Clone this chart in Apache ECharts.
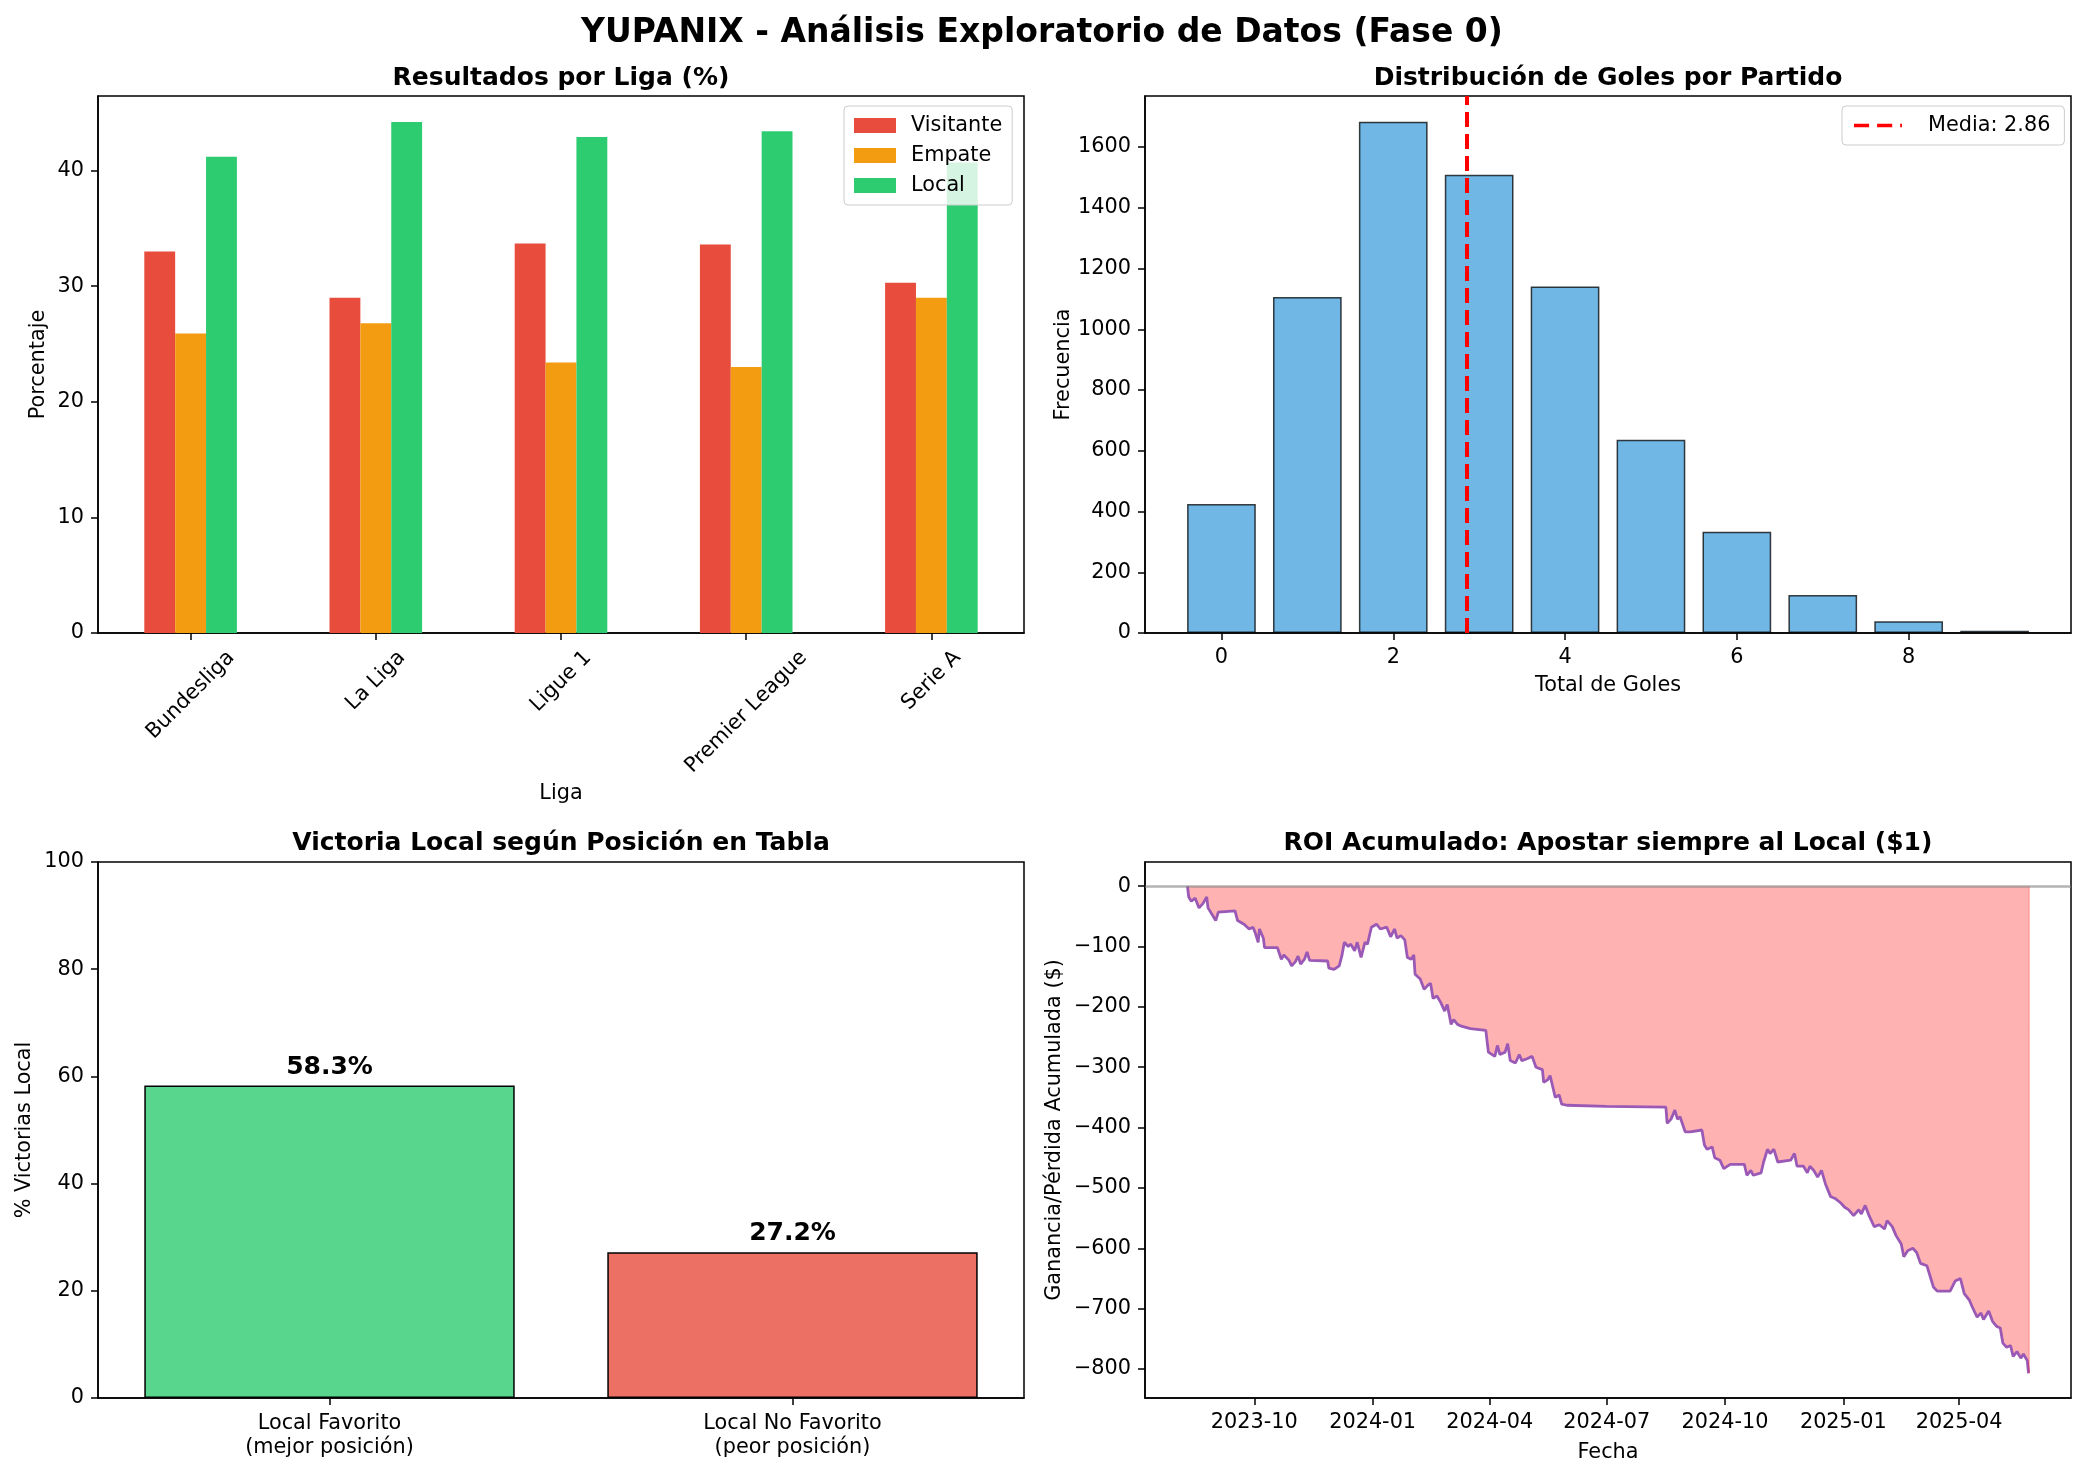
<!DOCTYPE html>
<html>
<head>
<meta charset="utf-8">
<title>YUPANIX - Análisis Exploratorio de Datos (Fase 0)</title>
<script src="https://cdn.jsdelivr.net/npm/echarts@6/dist/echarts.min.js"></script>
<style>
  html, body { margin: 0; padding: 0; background: #fff; }
  #main { width: 2084px; height: 1475px; }
</style>
</head>
<body>
<div id="main"></div>
<script>
// ---------- datos ----------
// resultados por liga (%)
const leagues = ['Bundesliga', 'La Liga', 'Ligue 1', 'Premier League', 'Serie A'];
const visitantePct = [33.0, 29.0, 33.7, 33.6, 30.3];
const empatePct = [25.9, 26.8, 23.4, 23.0, 29.0];
const localPct = [41.2, 44.2, 42.9, 43.4, 40.7];
const pctTicks = [0, 10, 20, 30, 40];

// distribucion de goles por partido
const goalTotals = [0, 1, 2, 3, 4, 5, 6, 7, 8, 9];
const goalFreq = [425, 1106, 1683, 1509, 1141, 636, 333, 125, 39, 7];
const goalMean = 2.86;
const goalTicks = [0, 2, 4, 6, 8];
const freqTicks = [0, 200, 400, 600, 800, 1000, 1200, 1400, 1600];

// victoria local segun posicion
const posCategories = ['Local Favorito\n(mejor posición)', 'Local No Favorito\n(peor posición)'];
const posHomeWinPct = [58.3, 27.2];
const winTicks = [0, 20, 40, 60, 80, 100];

// ROI acumulado apostando al local
const roiDates = [
  '2023-08-10','2023-08-11','2023-08-13','2023-08-16','2023-08-19','2023-08-22','2023-08-25','2023-08-26',
  '2023-08-30','2023-09-01','2023-09-03','2023-09-16','2023-09-18','2023-09-23','2023-09-27','2023-09-30',
  '2023-10-02','2023-10-04','2023-10-05','2023-10-08','2023-10-09','2023-10-19','2023-10-22','2023-10-24',
  '2023-10-28','2023-10-30','2023-11-02','2023-11-04','2023-11-06','2023-11-09','2023-11-11','2023-11-13',
  '2023-11-27','2023-11-28','2023-12-02','2023-12-06','2023-12-08','2023-12-10','2023-12-13','2023-12-15',
  '2023-12-18','2023-12-20','2023-12-23','2023-12-26','2023-12-28','2023-12-31','2024-01-04','2024-01-07',
  '2024-01-12','2024-01-15','2024-01-18','2024-01-20','2024-01-23','2024-01-26','2024-01-28','2024-01-31',
  '2024-02-02','2024-02-03','2024-02-07','2024-02-10','2024-02-13','2024-02-15','2024-02-17','2024-02-20',
  '2024-02-23','2024-02-26','2024-02-28','2024-03-02','2024-03-04','2024-03-07','2024-03-10','2024-03-17',
  '2024-03-29','2024-03-31','2024-04-05','2024-04-07','2024-04-09','2024-04-13','2024-04-15','2024-04-17',
  '2024-04-21','2024-04-24','2024-04-26','2024-04-30','2024-05-04','2024-05-07','2024-05-12','2024-05-13',
  '2024-05-16','2024-05-18','2024-05-20','2024-05-22','2024-05-25','2024-05-27','2024-05-31','2024-07-01',
  '2024-08-16','2024-08-17','2024-08-20','2024-08-23','2024-08-25','2024-08-27','2024-08-31','2024-09-04',
  '2024-09-13','2024-09-15','2024-09-17','2024-09-21','2024-09-23','2024-09-27','2024-09-30','2024-10-05',
  '2024-10-16','2024-10-18','2024-10-21','2024-10-23','2024-10-29','2024-10-31','2024-11-03','2024-11-05',
  '2024-11-08','2024-11-11','2024-11-21','2024-11-24','2024-11-26','2024-12-01','2024-12-04','2024-12-06',
  '2024-12-09','2024-12-12','2024-12-15','2024-12-18','2024-12-22','2024-12-26','2024-12-30','2025-01-02',
  '2025-01-05','2025-01-09','2025-01-13','2025-01-15','2025-01-18','2025-01-21','2025-01-25','2025-01-29',
  '2025-02-02','2025-02-04','2025-02-08','2025-02-11','2025-02-15','2025-02-17','2025-02-20','2025-02-24',
  '2025-02-27','2025-03-02','2025-03-07','2025-03-10','2025-03-12','2025-03-15','2025-03-25','2025-03-29',
  '2025-04-02','2025-04-05','2025-04-09','2025-04-11','2025-04-15','2025-04-18','2025-04-20','2025-04-24',
  '2025-04-27','2025-04-30','2025-05-03','2025-05-05','2025-05-08','2025-05-11','2025-05-13','2025-05-16',
  '2025-05-19','2025-05-21','2025-05-24','2025-05-25'
];
const roiCum = [
  0, -18, -25, -20, -36, -29, -18, -36,
  -50, -57, -43, -41, -57, -63, -71, -68,
  -79, -93, -71, -86, -102, -102, -121, -114,
  -123, -132, -125, -116, -129, -121, -109, -123,
  -124, -136, -138, -132, -116, -93, -100, -96,
  -107, -93, -118, -93, -96, -68, -63, -71,
  -68, -84, -71, -86, -82, -89, -118, -121,
  -114, -146, -154, -171, -164, -161, -186, -182,
  -193, -207, -196, -229, -221, -229, -232, -236,
  -239, -275, -282, -264, -279, -275, -261, -289,
  -293, -279, -289, -286, -282, -300, -304, -325,
  -321, -314, -332, -350, -346, -361, -363, -365,
  -366, -393, -386, -371, -386, -382, -407, -407,
  -404, -429, -436, -432, -450, -454, -468, -461,
  -461, -479, -471, -479, -475, -457, -436, -443,
  -436, -457, -454, -443, -464, -464, -475, -464,
  -471, -482, -471, -493, -514, -518, -525, -532,
  -536, -546, -536, -543, -529, -546, -564, -561,
  -568, -554, -564, -579, -593, -614, -604, -600,
  -607, -625, -629, -650, -664, -671, -671, -654,
  -650, -675, -686, -696, -714, -707, -718, -704,
  -721, -729, -732, -757, -764, -761, -779, -771,
  -782, -775, -786, -807
];
const roiTicks = [-800, -700, -600, -500, -400, -300, -200, -100, 0];
const roiDateTicks = ['2023-10-01', '2024-01-01', '2024-04-01', '2024-07-01', '2024-10-01', '2025-01-01', '2025-04-01'];

// ---------- estilo ----------
const FONT = 'DejaVu Sans';
const TICK = 20.8;
const TITLE = 25;
const BLACK = '#000';
const lineBlack = { color: BLACK, width: 1.5 };

// rejillas (px)
const G = {
  tl: { left: 98, top: 96, width: 926, height: 537 },
  tr: { left: 1145, top: 96, width: 926, height: 537 },
  bl: { left: 98, top: 862, width: 926, height: 536 },
  br: { left: 1145, top: 862, width: 926, height: 536 }
};

const histMin = -0.89, histMax = 9.89;
const histBarW = G.tr.width * 0.8 / (histMax - histMin);

function parseDay(s) {
  const p = s.split('-').map(Number);
  return Date.UTC(p[0], p[1] - 1, p[2]);
}
function fmtMonth(v) {
  const d = new Date(v);
  return d.getUTCFullYear() + '-' + String(d.getUTCMonth() + 1).padStart(2, '0');
}
function fmtPlain(v) {
  return v < 0 ? '\u2212' + Math.abs(v) : String(v);
}

// etiquetas giradas 45 grados centradas como en matplotlib
const measureCtx = document.createElement('canvas').getContext('2d');
measureCtx.font = TICK + 'px "DejaVu Sans"';
const rotBox = leagues.map(l => (measureCtx.measureText(l).width + 24) * Math.SQRT1_2);
const minBox = Math.min.apply(null, rotBox);
const leagueRich = {};
leagues.forEach((l, i) => {
  const p = (rotBox[i] - minBox) / 2 * Math.SQRT2;
  leagueRich['l' + i] = { fontSize: TICK, fontFamily: FONT, color: BLACK, padding: [p, p, 0, 0] };
});

function baseAxis(extra) {
  const ax = {
    axisLine: { show: true, onZero: false, lineStyle: lineBlack },
    axisTick: { show: true, length: 7, lineStyle: lineBlack },
    axisLabel: { color: BLACK, fontSize: TICK, fontFamily: FONT, margin: 14 },
    splitLine: { show: false },
    nameLocation: 'middle',
    nameTextStyle: { color: BLACK, fontSize: TICK, fontFamily: FONT }
  };
  Object.keys(extra).forEach(k => {
    if (ax[k] && typeof ax[k] === 'object' && !Array.isArray(ax[k])) {
      ax[k] = Object.assign({}, ax[k], extra[k]);
    } else {
      ax[k] = extra[k];
    }
  });
  return ax;
}

function titleAt(text, grid, top) {
  return {
    text: text,
    left: grid.left + grid.width / 2 - 5,
    top: top,
    textAlign: 'center',
    textStyle: { fontSize: TITLE, fontWeight: 'bold', fontFamily: FONT, color: BLACK }
  };
}

const chart = echarts.init(document.getElementById('main'));

const gridBase = { show: true, borderColor: BLACK, borderWidth: 1.5, backgroundColor: 'transparent' };
const legendBox = {
  backgroundColor: 'rgba(255,255,255,0.8)', borderColor: '#cccccc', borderWidth: 1, borderRadius: 4
};

const roiLastX = parseDay(roiDates[roiDates.length - 1]);
const roiLastY = roiCum[roiCum.length - 1];

const option = {
  backgroundColor: '#fff',
  animation: false,
  textStyle: { fontFamily: FONT },
  title: [
    { text: 'YUPANIX - Análisis Exploratorio de Datos (Fase 0)', left: 1037, top: 12, textAlign: 'center',
      textStyle: { fontSize: 33, fontWeight: 'bold', fontFamily: FONT, color: BLACK } },
    titleAt('Resultados por Liga (%)', G.tl, 61),
    titleAt('Distribución de Goles por Partido', G.tr, 61),
    titleAt('Victoria Local según Posición en Tabla', G.bl, 826),
    titleAt('ROI Acumulado: Apostar siempre al Local ($1)', G.br, 826)
  ],
  legend: [
    Object.assign({
      data: ['Visitante', 'Empate', 'Local'],
      orient: 'vertical', left: 844, top: 106,
      icon: 'rect', itemWidth: 42, itemHeight: 15, itemGap: 9,
      padding: [9, 10, 9, 10],
      textStyle: { fontSize: TICK, fontFamily: FONT, color: BLACK, padding: [0, 0, 0, 10] }
    }, legendBox),
    Object.assign({
      data: [{ name: 'Media: ' + goalMean, icon: 'path://M0,0h17v4h-17z M26,0h17v4h-17z M52,0h2v4h-2z' }],
      orient: 'vertical', left: 1842, top: 106,
      itemWidth: 48, itemHeight: 4,
      padding: [9, 14, 9, 12],
      textStyle: { fontSize: TICK, fontFamily: FONT, color: BLACK, padding: [0, 0, 0, 21] }
    }, legendBox)
  ],
  grid: [
    Object.assign({}, gridBase, G.tl),
    Object.assign({}, gridBase, G.tr),
    Object.assign({}, gridBase, G.bl),
    Object.assign({}, gridBase, G.br)
  ],
  xAxis: [
    baseAxis({
      type: 'category', gridIndex: 0, data: leagues, boundaryGap: true,
      axisTick: { alignWithLabel: true },
      axisLabel: {
        interval: 0, rotate: 45, align: 'center', verticalAlign: 'middle',
        margin: 13 + minBox / 2,
        formatter: (v, i) => '{l' + i + '|' + v + '}',
        rich: leagueRich
      },
      name: 'Liga', nameGap: 150
    }),
    baseAxis({
      type: 'value', gridIndex: 1, min: histMin, max: histMax,
      axisLabel: { customValues: goalTicks, formatter: fmtPlain },
      axisTick: { customValues: goalTicks },
      name: 'Total de Goles', nameGap: 42
    }),
    baseAxis({
      type: 'category', gridIndex: 2, data: posCategories, boundaryGap: true,
      axisTick: { alignWithLabel: true },
      axisLabel: { interval: 0, lineHeight: 24 }
    }),
    baseAxis({
      type: 'value', gridIndex: 3, min: parseDay('2023-07-08'), max: parseDay('2025-06-27'),
      axisLabel: { customValues: roiDateTicks.map(parseDay), formatter: fmtMonth },
      axisTick: { customValues: roiDateTicks.map(parseDay) },
      name: 'Fecha', nameGap: 44
    })
  ],
  yAxis: [
    baseAxis({
      type: 'value', gridIndex: 0, min: 0, max: 46.45,
      axisLabel: { customValues: pctTicks, formatter: fmtPlain },
      axisTick: { customValues: pctTicks },
      name: 'Porcentaje', nameGap: 49, nameRotate: 90
    }),
    baseAxis({
      type: 'value', gridIndex: 1, min: 0, max: 1768,
      axisLabel: { customValues: freqTicks, formatter: fmtPlain },
      axisTick: { customValues: freqTicks },
      name: 'Frecuencia', nameGap: 69, nameRotate: 90
    }),
    baseAxis({
      type: 'value', gridIndex: 2, min: 0, max: 100,
      axisLabel: { customValues: winTicks, formatter: fmtPlain },
      axisTick: { customValues: winTicks },
      name: '% Victorias Local', nameGap: 63, nameRotate: 90
    }),
    baseAxis({
      type: 'value', gridIndex: 3, min: -848, max: 40,
      axisLabel: { customValues: roiTicks, formatter: fmtPlain },
      axisTick: { customValues: roiTicks },
      name: 'Ganancia/Pérdida Acumulada ($)', nameGap: 80, nameRotate: 90
    })
  ],
  series: [
    {
      name: 'Visitante', type: 'bar', xAxisIndex: 0, yAxisIndex: 0, data: visitantePct,
      barGap: '0%', barCategoryGap: '50%', itemStyle: { color: '#e74c3c' }
    },
    {
      name: 'Empate', type: 'bar', xAxisIndex: 0, yAxisIndex: 0, data: empatePct,
      barGap: '0%', barCategoryGap: '50%', itemStyle: { color: '#f39c12' }
    },
    {
      name: 'Local', type: 'bar', xAxisIndex: 0, yAxisIndex: 0, data: localPct,
      barGap: '0%', barCategoryGap: '50%', itemStyle: { color: '#2ecc71' }
    },
    {
      name: 'Goles', type: 'bar', xAxisIndex: 1, yAxisIndex: 1,
      data: goalTotals.map((g, i) => [g, goalFreq[i]]),
      barWidth: histBarW,
      itemStyle: { color: 'rgba(52,152,219,0.7)', borderColor: 'rgba(0,0,0,0.75)', borderWidth: 1.5 }
    },
    {
      name: 'Media: ' + goalMean, type: 'line', xAxisIndex: 1, yAxisIndex: 1, data: [],
      symbol: 'none',
      itemStyle: { color: '#ff0000' },
      lineStyle: { color: '#ff0000', width: 4, type: [15, 7] },
      markLine: {
        silent: true, symbol: 'none', label: { show: false },
        lineStyle: { color: '#ff0000', width: 4, type: [15, 7] },
        data: [{ xAxis: goalMean }]
      },
      z: 5
    },
    {
      name: 'Posicion', type: 'bar', xAxisIndex: 2, yAxisIndex: 2, barWidth: '80%',
      data: posHomeWinPct.map((v, i) => ({
        value: v,
        itemStyle: { color: i === 0 ? 'rgba(46,204,113,0.8)' : 'rgba(231,76,60,0.8)' }
      })),
      itemStyle: { borderColor: '#000', borderWidth: 1.5 },
      label: {
        show: true, position: 'top', distance: 6,
        formatter: p => p.value.toFixed(1) + '%',
        fontSize: TITLE, fontWeight: 'bold', fontFamily: FONT, color: BLACK
      }
    },
    {
      name: 'ROI', type: 'line', xAxisIndex: 3, yAxisIndex: 3,
      data: roiDates.map((d, i) => [parseDay(d), roiCum[i]]),
      showSymbol: false, symbol: 'none',
      lineStyle: { color: '#9b59b6', width: 2.8 },
      areaStyle: { color: 'rgba(255,0,0,0.3)', opacity: 1, origin: 0 },
      markLine: {
        silent: true, symbol: 'none', label: { show: false },
        data: [
          [
            { coord: [roiLastX, 0], lineStyle: { color: 'rgba(255,0,0,0.35)', width: 1.5, type: 'solid' } },
            { coord: [roiLastX, roiLastY] }
          ],
          { yAxis: 0, lineStyle: { color: 'rgba(128,128,128,0.6)', width: 2.5, type: 'solid' } }
        ]
      },
      z: 3
    }
  ]
};

chart.setOption(option);
</script>
</body>
</html>
